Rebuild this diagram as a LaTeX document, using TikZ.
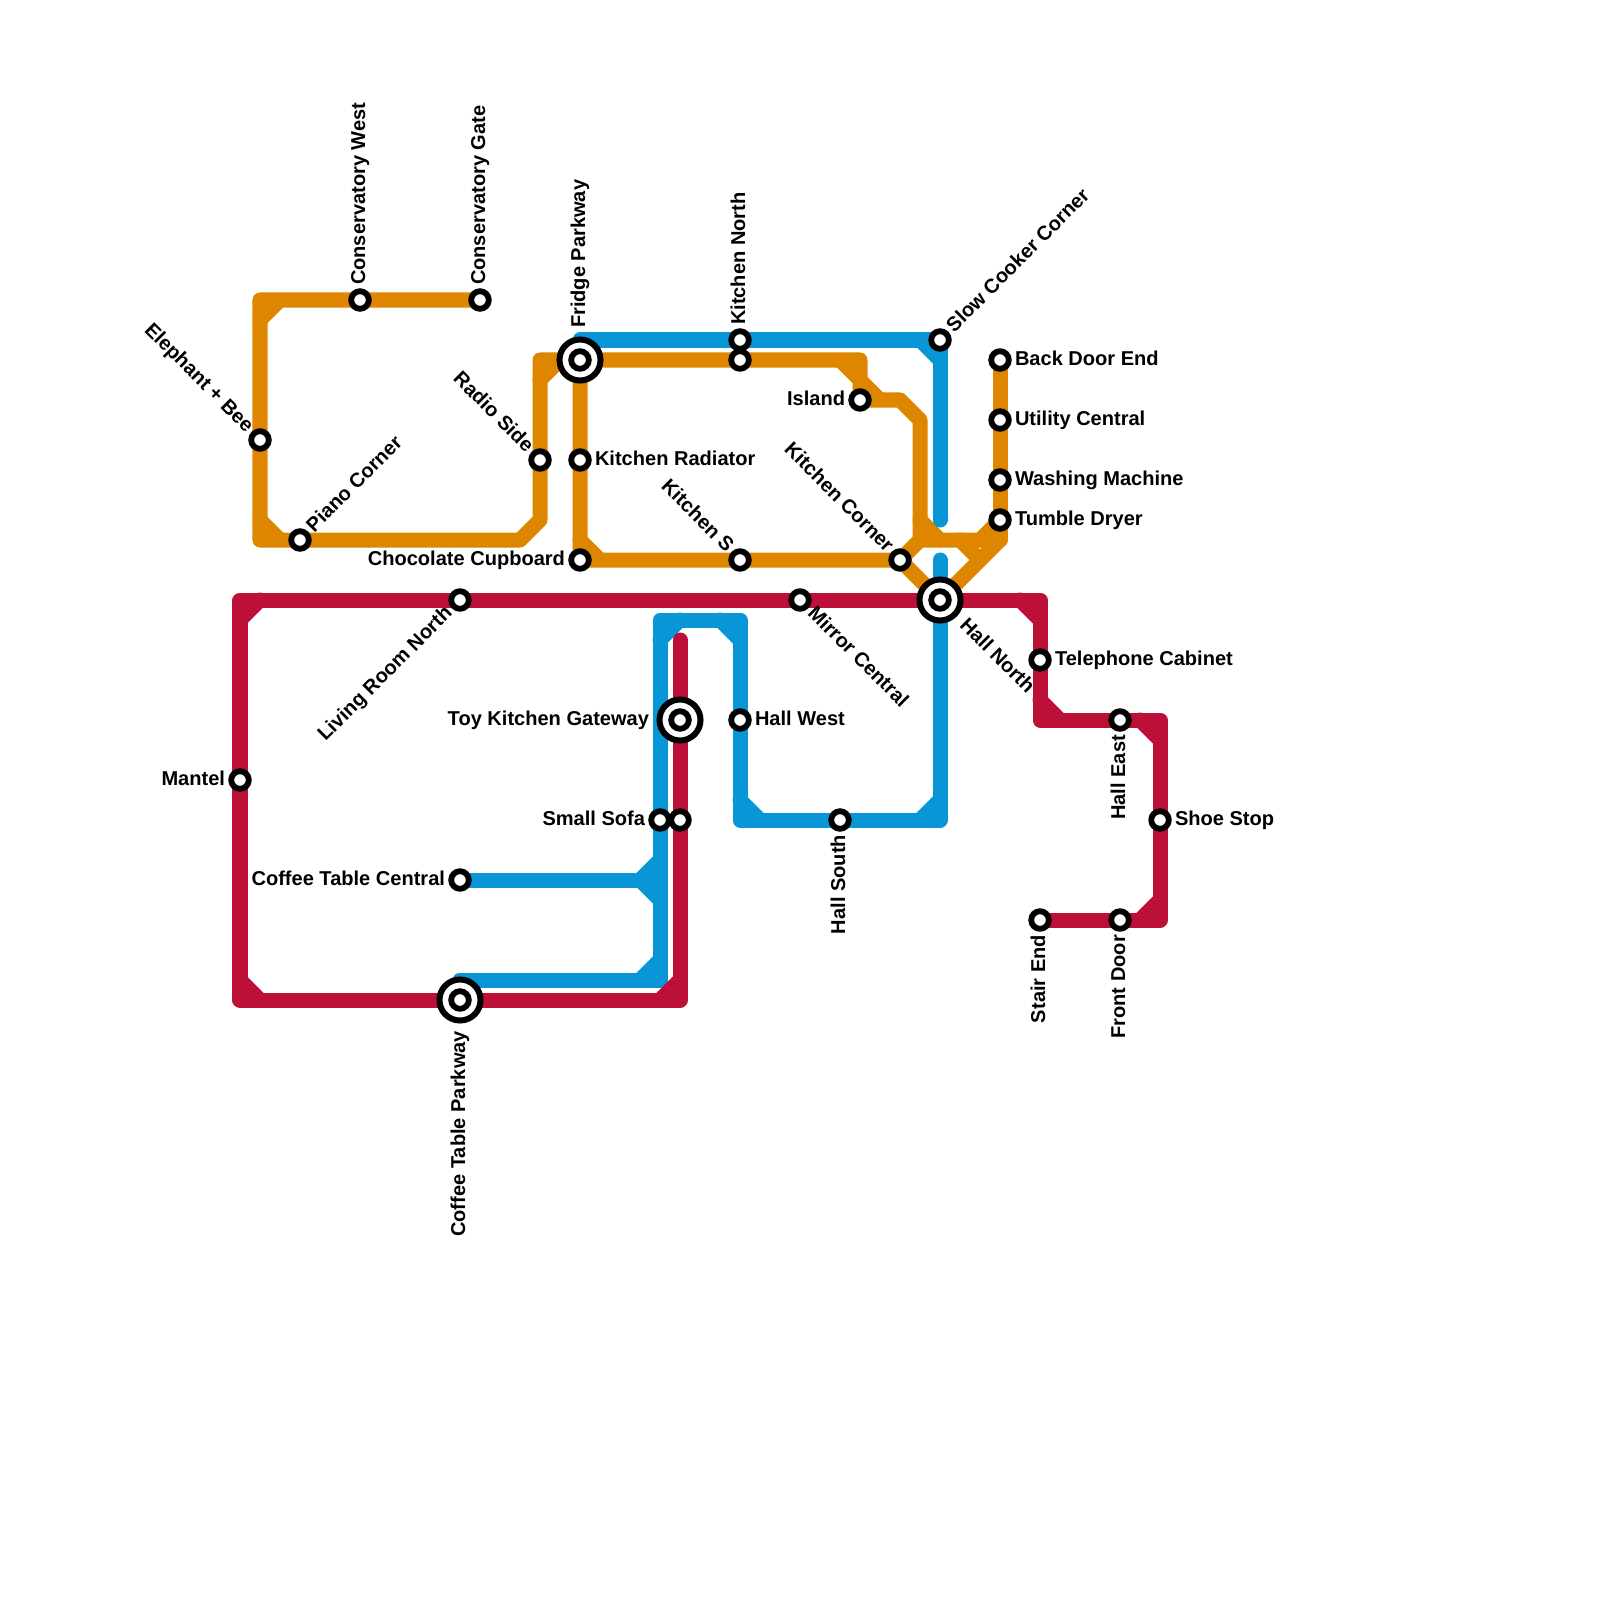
\documentclass[tikz,border=0pt]{standalone}
\usepackage{fontspec}
\setmainfont{Liberation Sans}
\definecolor{lineorange}{HTML}{DF8600}
\definecolor{lineblue}{HTML}{0896D7}
\definecolor{linered}{HTML}{BD1038}
\tikzset{
  route/.style={line width=0.15cm,line join=round,line cap=round},
  orangeline/.style={route,draw=lineorange},
  blueline/.style={route,draw=lineblue},
  redline/.style={route,draw=linered},
  stn/.style={circle,draw=black,fill=white,line width=0.058cm,minimum size=0.176cm,inner sep=0pt,outer sep=0pt},
  hub/.style={circle,draw=black,fill=white,line width=0.06cm,minimum size=0.41cm,inner sep=0pt,outer sep=0pt},
  lab/.style={font=\fontsize{5.7pt}{6pt}\selectfont\bfseries,text=black,inner sep=0pt,outer sep=0pt,text height=4.1pt,text depth=0pt,yshift=0.02cm},
  lr/.style={lab,anchor=west,xshift=0.15cm},
  ll/.style={lab,anchor=east,xshift=-0.15cm},
  blr/.style={lab,anchor=west,xshift=0.32cm},
  bll/.style={lab,anchor=east,xshift=-0.31cm},
}
\begin{document}
\begin{tikzpicture}[x=0.01cm,y=-0.01cm]
\useasboundingbox (0,0) rectangle (1600,1600);
% named route points
\foreach \x/\y in {
 480/300,360/300,280/300,260/300,260/320,260/440,260/520,260/540,280/540,300/540,520/540,540/520,540/460,540/380,540/360,560/360,580/360,
 580/340,580/460,580/540,580/560,600/560,740/560,900/560,740/360,740/340,840/360,860/360,860/380,860/400,880/400,900/400,920/420,920/520,920/540,940/540,960/540,980/540,980/560,1000/540,1000/520,1000/480,1000/420,1000/360,940/600,
 920/340,940/340,940/360,940/520,940/560,940/800,940/820,920/820,840/820,760/820,740/820,740/800,740/720,740/640,740/620,720/620,680/620,660/620,660/640,660/820,660/860,660/880,660/900,660/960,660/980,640/980,460/980,460/880,640/880,
 680/640,680/720,680/820,680/980,680/1000,660/1000,460/1000,260/1000,240/1000,240/980,240/780,240/620,240/600,260/600,460/600,800/600,1020/600,1040/600,1040/620,1040/660,1040/700,1040/720,1060/720,1120/720,1140/720,1160/720,1160/740,1160/820,1160/900,1160/920,1140/920,1120/920,1040/920}
 {\coordinate (g\x-\y) at (\x,\y);}
% orange
\draw[orangeline] (g480-300) -- (g360-300) -- (g260-300) -- (g260-440) -- (g260-540) -- (g300-540) -- (g520-540) -- (g540-520) -- (g540-460) -- (g540-360) -- (g580-360);
\draw[orangeline] (g260-320) -- (g280-300);
\draw[orangeline] (g260-520) -- (g280-540);
\draw[orangeline] (g540-380) -- (g560-360);
\draw[orangeline] (g580-360) -- (g580-460) -- (g580-560) -- (g740-560) -- (g900-560) -- (g940-600);
\draw[orangeline] (g580-540) -- (g600-560);
\draw[orangeline] (g580-360) -- (g740-360) -- (g860-360) -- (g860-400) -- (g900-400) -- (g920-420) -- (g920-540) -- (g1000-540) -- (g940-600);
\draw[orangeline] (g840-360) -- (g860-380) -- (g880-400);
\draw[orangeline] (g900-560) -- (g920-540);
\draw[orangeline] (g920-520) -- (g940-540);
\draw[orangeline] (g960-540) -- (g980-560);
\draw[orangeline] (g1000-360) -- (g1000-420) -- (g1000-480) -- (g1000-520) -- (g1000-540);
\draw[orangeline] (g980-540) -- (g1000-520);
% blue
\draw[blueline] (g580-340) -- (g740-340) -- (g940-340) -- (g940-520);
\draw[blueline] (g920-340) -- (g940-360);
\draw[blueline] (g940-560) -- (g940-820) -- (g840-820) -- (g740-820) -- (g740-620) -- (g660-620) -- (g660-980) -- (g460-980);
\draw[blueline] (g940-800) -- (g920-820);
\draw[blueline] (g740-800) -- (g760-820);
\draw[blueline] (g720-620) -- (g740-640);
\draw[blueline] (g660-640) -- (g680-620);
\draw[blueline] (g660-960) -- (g640-980);
\draw[blueline] (g460-880) -- (g660-880);
\draw[blueline] (g660-860) -- (g640-880) -- (g660-900);
% red
\draw[redline] (g680-640) -- (g680-1000) -- (g460-1000) -- (g240-1000) -- (g240-600) -- (g1040-600) -- (g1040-720) -- (g1160-720) -- (g1160-920) -- (g1040-920);
\draw[redline] (g660-1000) -- (g680-980);
\draw[redline] (g240-980) -- (g260-1000);
\draw[redline] (g240-620) -- (g260-600);
\draw[redline] (g1020-600) -- (g1040-620);
\draw[redline] (g1040-700) -- (g1060-720);
\draw[redline] (g1140-720) -- (g1160-740);
\draw[redline] (g1160-900) -- (g1140-920);
% interchange rings
\node[hub] (hubFridge) at (g580-360) {};
\node[hub] (hubHall) at (g940-600) {};
\node[hub] (hubToy) at (g680-720) {};
\node[hub] (hubCoffee) at (g460-1000) {};
% stations
\node[stn] (consW) at (g360-300) {};
\node[stn] (consG) at (g480-300) {};
\node[stn] (eleph) at (g260-440) {};
\node[stn] (piano) at (g300-540) {};
\node[stn] (radio) at (g540-460) {};
\node[stn] (fridge) at (g580-360) {};
\node[stn] (kRad) at (g580-460) {};
\node[stn] (choc) at (g580-560) {};
\node[stn] (kNorth) at (g740-340) {};
\node[stn] (kNorthB) at (g740-360) {};
\node[stn] (island) at (g860-400) {};
\node[stn] (kS) at (g740-560) {};
\node[stn] (kCorner) at (g900-560) {};
\node[stn] (slow) at (g940-340) {};
\node[stn] (back) at (g1000-360) {};
\node[stn] (util) at (g1000-420) {};
\node[stn] (wash) at (g1000-480) {};
\node[stn] (tumble) at (g1000-520) {};
\node[stn] (living) at (g460-600) {};
\node[stn] (mirror) at (g800-600) {};
\node[stn] (hallN) at (g940-600) {};
\node[stn] (phone) at (g1040-660) {};
\node[stn] (mantel) at (g240-780) {};
\node[stn] (toy) at (g680-720) {};
\node[stn] (hallW) at (g740-720) {};
\node[stn] (sofa) at (g660-820) {};
\node[stn] (sofaB) at (g680-820) {};
\node[stn] (hallS) at (g840-820) {};
\node[stn] (hallE) at (g1120-720) {};
\node[stn] (shoe) at (g1160-820) {};
\node[stn] (coffeeC) at (g460-880) {};
\node[stn] (coffeeP) at (g460-1000) {};
\node[stn] (stair) at (g1040-920) {};
\node[stn] (front) at (g1120-920) {};
% labels
\node[rotate=90,lr] (tConsW) at (consW) {Conservatory West};
\node[rotate=90,lr] (tConsG) at (consG) {Conservatory Gate};
\node[rotate=-45,ll] (tEleph) at (eleph) {Elephant + Bee};
\node[rotate=45,lr] (tPiano) at (piano) {Piano Corner};
\node[rotate=-45,ll] (tRadio) at (radio) {Radio Side};
\node[rotate=90,blr] (tFridge) at (fridge) {Fridge Parkway};
\node[lr] (tKRad) at (kRad) {Kitchen Radiator};
\node[ll] (tChoc) at (choc) {Chocolate Cupboard};
\node[rotate=90,lr] (tKNorth) at (kNorth) {Kitchen North};
\node[ll] (tIsland) at (island) {Island};
\node[rotate=-45,ll] (tKS) at (kS) {Kitchen S};
\node[rotate=-45,ll] (tKCorner) at (kCorner) {Kitchen Corner};
\node[rotate=45,lr] (tSlow) at (slow) {Slow Cooker Corner};
\node[lr] (tBack) at (back) {Back Door End};
\node[lr] (tUtil) at (util) {Utility Central};
\node[lr] (tWash) at (wash) {Washing Machine};
\node[lr] (tTumble) at (tumble) {Tumble Dryer};
\node[rotate=45,ll] (tLiving) at (living) {Living Room North};
\node[rotate=-45,lr] (tMirror) at (mirror) {Mirror Central};
\node[rotate=-45,blr] (tHallN) at (hallN) {Hall North};
\node[lr] (tPhone) at (phone) {Telephone Cabinet};
\node[ll] (tMantel) at (mantel) {Mantel};
\node[bll] (tToy) at (toy) {Toy Kitchen Gateway};
\node[lr] (tHallW) at (hallW) {Hall West};
\node[ll] (tSofa) at (sofa) {Small Sofa};
\node[rotate=90,ll] (tHallS) at (hallS) {Hall South};
\node[rotate=90,ll] (tHallE) at (hallE) {Hall East};
\node[lr] (tShoe) at (shoe) {Shoe Stop};
\node[ll] (tCoffeeC) at (coffeeC) {Coffee Table Central};
\node[rotate=90,bll] (tCoffeeP) at (coffeeP) {Coffee Table Parkway};
\node[rotate=90,ll] (tStair) at (stair) {Stair End};
\node[rotate=90,ll] (tFront) at (front) {Front Door};
\end{tikzpicture}
\end{document}
